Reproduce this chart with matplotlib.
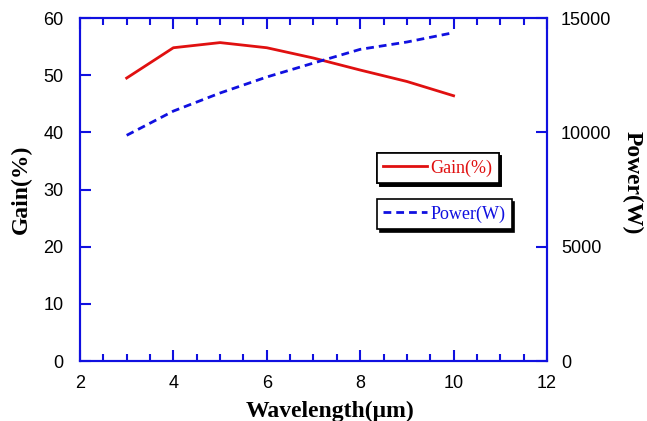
import matplotlib
matplotlib.use("Agg")
from matplotlib import pyplot as plt
from matplotlib.ticker import MultipleLocator

wavelength = [3, 4, 5, 6, 7, 8, 9, 10]
gain = [49.5, 54.8, 55.7, 54.8, 53.0, 50.9, 48.9, 46.4]
power = [9870, 10930, 11720, 12420, 13030, 13630, 13950, 14360]

blue = '#1010e0'
sans = 'Liberation Sans'
serif = 'Liberation Serif'

fig = plt.figure(figsize=(6.47, 4.21), dpi=100)
ax = fig.add_axes([0.1236, 0.1425, 0.7218, 0.8147])
ax2 = ax.twinx()

l1, = ax.plot(wavelength, gain, color='#e01010', lw=2, label='Gain(%)')
l2, = ax2.plot(wavelength, power, color=blue, lw=2, ls=(0, (2.8, 1.8)), label='Power(W)')

ax.set_xlim(2, 12)
ax.set_ylim(0, 60)
ax2.set_ylim(0, 15000)
ax.xaxis.set_major_locator(MultipleLocator(2))
ax.xaxis.set_minor_locator(MultipleLocator(0.5))
ax.yaxis.set_major_locator(MultipleLocator(10))
ax2.yaxis.set_major_locator(MultipleLocator(5000))

for a in (ax, ax2):
    for s in a.spines.values():
        s.set_color(blue)
        s.set_linewidth(1.5)
ax.tick_params(axis='x', which='both', direction='in', top=True, color=blue, width=1.5, pad=10)
ax.tick_params(axis='x', which='major', length=8)
ax.tick_params(axis='x', which='minor', length=5)
ax.tick_params(axis='y', direction='in', length=8, width=1.5, color=blue, pad=12)
ax2.tick_params(axis='y', direction='in', length=8, width=1.5, color=blue, pad=10)

for lab in ax.get_xticklabels() + ax.get_yticklabels() + ax2.get_yticklabels():
    lab.set_fontfamily(sans)
    lab.set_fontsize(13)

ax.set_xlabel('Wavelength(μm)', fontfamily=serif, fontweight='bold', fontsize=17)
ax.xaxis.set_label_coords(0.535, -0.115)
ax.set_ylabel('Gain(%)', fontfamily=serif, fontweight='bold', fontsize=17, labelpad=8)
ax2.set_ylabel('Power(W)', fontfamily=serif, fontweight='bold', fontsize=17, rotation=-90)
ax2.yaxis.set_label_coords(1.205, 0.52)

shadow = {'color': 'black', 'alpha': 1}
leg1 = ax.legend(handles=[l1], loc='upper left', bbox_to_anchor=(0.636, 0.606), frameon=True,
                 fancybox=False, edgecolor='black', shadow=shadow, labelcolor='linecolor',
                 prop={'family': serif, 'size': 13}, handlelength=2.4, handletextpad=0.2,
                 borderpad=0.35, borderaxespad=0, framealpha=1)
leg1.get_frame().set_linewidth(1.2)
ax.add_artist(leg1)
leg2 = ax2.legend(handles=[l2], loc='upper left', bbox_to_anchor=(0.636, 0.472), frameon=True,
                  fancybox=False, edgecolor='black', shadow=shadow, labelcolor='linecolor',
                  prop={'family': serif, 'size': 13}, handlelength=2.4, handletextpad=0.2,
                  borderpad=0.35, borderaxespad=0, framealpha=1)
leg2.get_frame().set_linewidth(1.2)

fig.savefig('out.png', dpi=100)
